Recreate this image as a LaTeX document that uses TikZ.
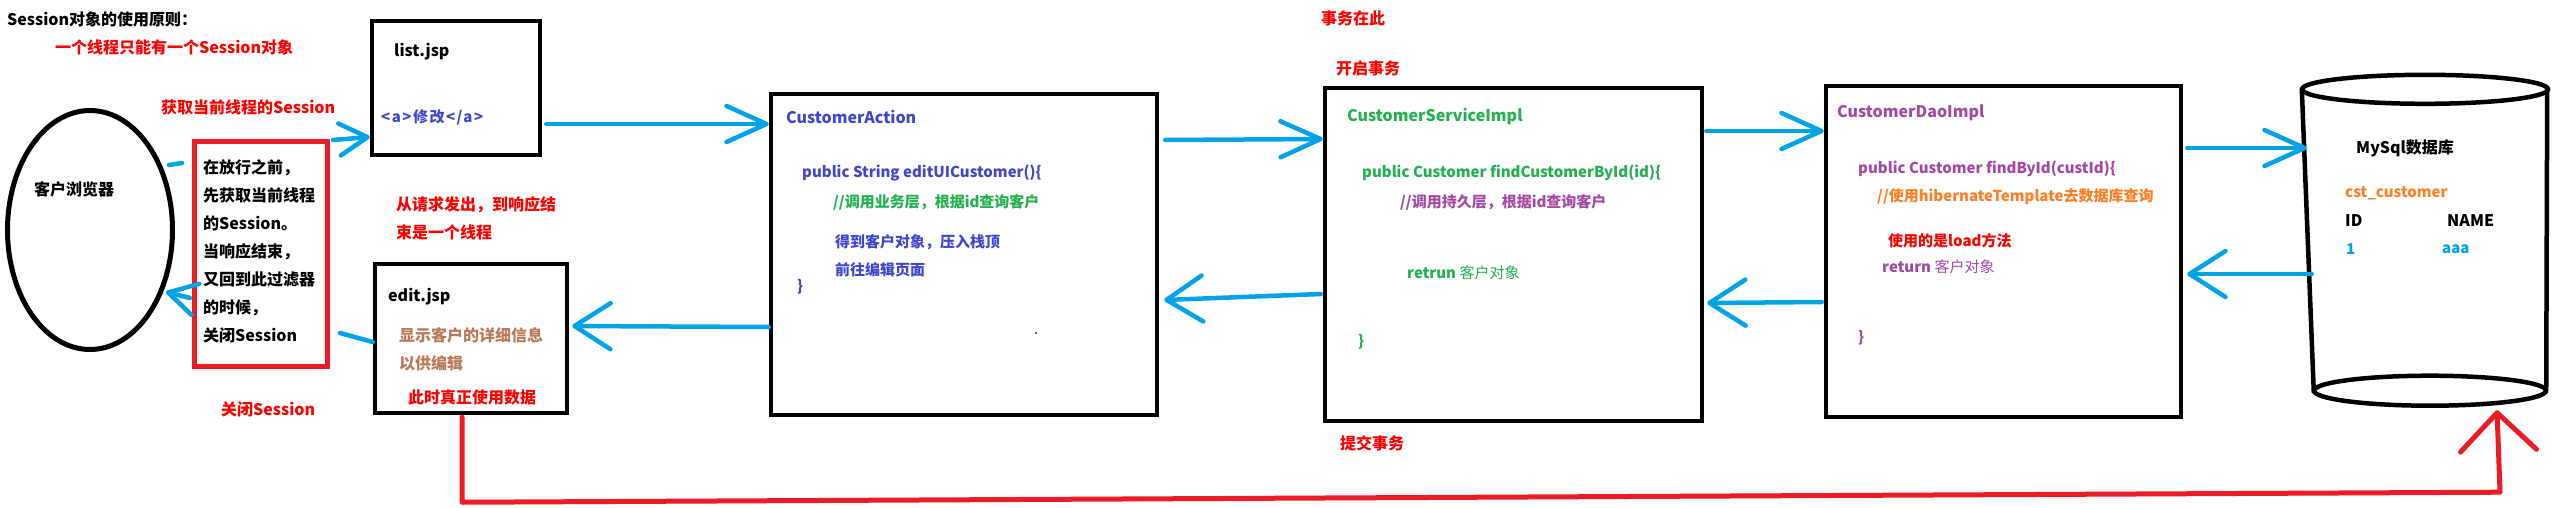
\documentclass[tikz,border=0pt]{standalone}
\usepackage{fontspec}
\setmainfont{Noto Sans CJK SC}
\usetikzlibrary{arrows.meta,shapes.geometric,calc}
\definecolor{pblue}{HTML}{00A2E8}
\definecolor{pred}{HTML}{ED1C24}
\definecolor{tred}{HTML}{FF0000}
\definecolor{cIndigo}{HTML}{3F48CC}
\definecolor{cGreen}{HTML}{22B14C}
\definecolor{cPurple}{HTML}{A349A4}
\definecolor{cOrange}{HTML}{FF7F27}
\definecolor{cBrown}{HTML}{B97A57}
\tikzset{
  lbl/.style={inner sep=0pt, anchor=west, font=\fontsize{16}{28}\selectfont\bfseries},
  code/.style={inner sep=0pt, anchor=west, font=\fontsize{15}{20}\selectfont\bfseries},
  ttl/.style={inner sep=0pt, anchor=west, font=\fontsize{16}{20}\selectfont\bfseries},
  box/.style={draw=black, line width=4.5pt, inner sep=0pt},
  bl/.style={draw=pblue, line width=4.5pt, line cap=round},
  fwd/.style={bl, -{Straight Barb[length=40pt,width=36pt,round]}},
  bwd/.style={bl, -{Straight Barb[length=36pt,width=46pt,round]}},
  sml/.style={bl, -{Straight Barb[length=28pt,width=32pt,round]}},
  redarr/.style={draw=pred, line width=5pt, line cap=round, line join=round,
    -{Straight Barb[length=38pt,width=76pt,round]}},
  dbline/.style={draw=black, line width=4.5pt}
}
\begin{document}
\begin{tikzpicture}[x=1pt,y=-1pt]
\fill[white] (0,0) rectangle (2558,508);
\useasboundingbox (0,0) rectangle (2558,508);

% headings and free labels
\node[lbl] (rule) at (7,19) {Session对象的使用原则：};
\node[lbl,text=tred] (rule1) at (55,47) {一个线程只能有一个Session对象};
\node[lbl,text=tred] (getsess) at (161,107) {获取当前线程的Session};
\node[lbl,text=tred,align=left] (thread) at (396,218) {从请求发出，到响应结\\束是一个线程};
\node[lbl,text=tred] (closesess) at (221,409) {关闭Session};
\node[lbl,text=tred] (txhere) at (1321,18) {事务在此};
\node[lbl,text=tred] (txbegin) at (1336,68) {开启事务};
\node[lbl,text=tred] (txcommit) at (1340,443) {提交事务};

% browser
\node[ellipse, draw=black, line width=5pt, minimum width=165pt, minimum height=239pt, inner sep=0pt] (browser) at (90,230) {};
\node[lbl] (browsertxt) at (34,189) {客户浏览器};

% filter
\node[draw=pred, line width=5pt, minimum width=133pt, minimum height=225pt, inner sep=0pt] (filter) at (261,254) {};
\node[lbl,align=left] (filtertxt) at (203,251) {在放行之前，\\先获取当前线程\\的Session。\\当响应结束，\\又回到此过滤器\\的时候，\\关闭Session};

% list.jsp
\node[box, minimum width=168pt, minimum height=134pt] (list) at (456,88) {};
\node[ttl] (listttl) at (394,52) {list.jsp};
\node[code,text=cIndigo,font=\fontsize{15}{20}\selectfont\bfseries\addfontfeatures{LetterSpace=10}] (listlink) at (381,117) {<a>修改</a>};

% edit.jsp
\node[box, minimum width=192pt, minimum height=149pt] (edit) at (471,338.5) {};
\node[ttl] (editttl) at (388,297) {edit.jsp};
\node[lbl,text=cBrown,align=left] (edittxt) at (399,349) {显示客户的详细信息\\以供编辑};
\node[lbl,text=tred] (realuse) at (408,397) {此时真正使用数据};

% CustomerAction
\node[box, minimum width=386pt, minimum height=321pt] (ca) at (964,254.5) {};
\node[ttl,text=cIndigo] (catt) at (786,117) {CustomerAction};
\node[code,text=cIndigo] (ca1) at (802,173) {public String editUICustomer()\{};
\node[code,text=cGreen] (ca2) at (833,202) {//调用业务层，根据id查询客户};
\node[code,text=cIndigo] (ca3) at (835,242) {得到客户对象，压入栈顶};
\node[code,text=cIndigo] (ca4) at (835,270) {前往编辑页面};
\node[code,text=cIndigo] (ca5) at (797,287) {\}};
\fill[black] (1036,333) circle (1);

% CustomerServiceImpl
\node[box, minimum width=377pt, minimum height=333pt] (csi) at (1513.5,254.5) {};
\node[ttl,text=cGreen] (csitt) at (1347,117) {CustomerServiceImpl};
\node[code,text=cGreen] (csi1) at (1362,173) {public Customer findCustomerById(id)\{};
\node[code,text=cPurple] (csi2) at (1400,202) {//调用持久层，根据id查询客户};
\node[code,text=cGreen] (csi3) at (1407,273) {retrun {\mdseries 客户对象}};
\node[code,text=cGreen] (csi4) at (1358,342) {\}};

% CustomerDaoImpl
\node[box, minimum width=355pt, minimum height=331pt] (cdi) at (2003.5,251.5) {};
\node[ttl,text=cPurple] (cditt) at (1837,113) {CustomerDaoImpl};
\node[code,text=cPurple] (cdi1) at (1858,169) {public Customer findById(custId)\{};
\node[code,text=cOrange] (cdi2) at (1877,197) {//使用hibernateTemplate去数据库查询};
\node[code,text=tred] (cdi3) at (1888,241) {使用的是load方法};
\node[code,text=cPurple] (cdi4) at (1882,267) {return {\mdseries 客户对象}};
\node[code,text=cPurple] (cdi5) at (1858,338) {\}};

% database cylinder
\node[inner sep=0pt, minimum width=244pt, minimum height=301pt] (db) at (2425,240) {};
\draw[dbline] (db.north) ellipse [x radius=123, y radius=14.5];
\draw[dbline] ($(db.south)+(5,0)$) ellipse [x radius=116, y radius=15];
\draw[dbline] ($(db.north west)+(-1,0)$) -- ($(db.south west)+(11,2)$);
\draw[dbline] ($(db.north east)+(0,0)$) -- ($(db.south east)+(-1,0)$);
\node[ttl] (dbttl) at (2356,148) {MySql数据库};
\node[code,text=cOrange] (tbl) at (2345,193) {cst\_customer};
\node[ttl] (colid) at (2345,221) {ID};
\node[ttl] (colname) at (2447,221) {NAME};
\node[code,text=pblue] (v1) at (2346,249) {1};
\node[code,text=pblue] (v2) at (2442,249) {aaa};

% connectors
\draw[sml] ($(filter.north east)+(3,1)$) -- ($(list.west)+(0,49)$);
\draw[bl] ($(browser.east)+(-6,-65)$) -- ($(filter.west)+(-10,-91)$);
\draw[sml] ($(filter.west)+(-2,44)$) -- ($(browser.east)+(-9,62)$);
\draw[bl] ($(filter.east)+(10,79)$) -- ($(edit.west)+(0,3.5)$);
\draw[fwd] ($(list.east)+(4,36)$) -- ($(ca.west)+(0,-130.5)$);
\draw[bwd] ($(ca.west)+(0,72.5)$) -- ($(edit.east)+(3,-12.5)$);
\draw[fwd] ($(ca.east)+(6,-114.5)$) -- ($(csi.west)+(0,-115.5)$);
\draw[bwd] ($(csi.west)+(-2,39.5)$) -- ($(ca.east)+(5,45.5)$);
\draw[fwd] ($(csi.east)+(2,-123.5)$) -- ($(cdi.west)+(0,-120.5)$);
\draw[bwd] ($(cdi.west)+(-2,50.5)$) -- ($(csi.east)+(3,48.5)$);
\draw[fwd] ($(cdi.east)+(4,-103.5)$) -- ($(db.west)+(4,-92)$);
\draw[bwd] ($(db.west)+(9,34)$) -- ($(cdi.east)+(4,22.5)$);
\draw[redarr] ($(edit.south)+(-9,2)$) -- ++(0,85) -- ($(db.south)+(75,101.5)$) -- ($(db.south)+(72,19.5)$);
\end{tikzpicture}
\end{document}
